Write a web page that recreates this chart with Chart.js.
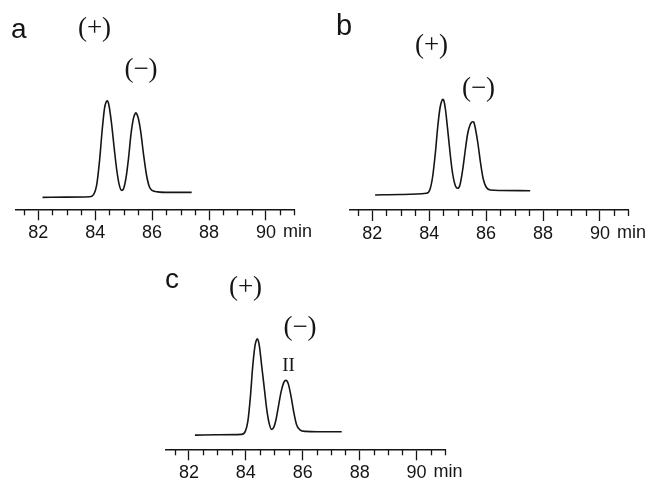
<!DOCTYPE html>
<html>
<head>
<meta charset="utf-8">
<script src="https://cdn.jsdelivr.net/npm/chart.js@4.4.1/dist/chart.umd.min.js"></script>
<style>
  body { margin: 0; background: #fff; }
  #wrap { position: relative; width: 651px; height: 483px; overflow: hidden; }
  canvas { position: absolute; }
</style>
</head>
<body>
<div id="wrap">
  <canvas id="chartA" width="325" height="250" style="left:0px;top:0px"></canvas>
  <canvas id="chartB" width="321" height="250" style="left:330px;top:0px"></canvas>
  <canvas id="chartC" width="320" height="243" style="left:150px;top:240px"></canvas>
</div>
<script>
// retention time (min) and detector signal
const timeA = [82.15, 83.0, 83.8, 83.95, 84.05, 84.15, 84.25, 84.33, 84.38, 84.42, 84.46, 84.5, 84.58, 84.67, 84.76, 84.85, 84.93,
  85.0, 85.08, 85.17, 85.26, 85.34, 85.39, 85.43, 85.47, 85.52, 85.6, 85.7, 85.8, 85.9, 86.0, 86.2, 86.6, 87.39];
const signalA = [0, 0.2, 0.6, 3, 12, 36, 69, 90, 95.5, 97, 95.5, 90, 73, 49, 27, 12, 7,
  9, 19, 39, 64, 79, 83.5, 85, 83.5, 79, 66, 43, 23, 11, 7, 5.5, 5, 5];

const timeB = [82.1, 83.0, 83.9, 84.02, 84.12, 84.22, 84.3, 84.38, 84.44, 84.48, 84.52, 84.57, 84.64, 84.72, 84.8, 84.9, 85.0,
  85.08, 85.17, 85.26, 85.35, 85.44, 85.49, 85.53, 85.57, 85.62, 85.71, 85.8, 85.9, 86.0, 86.15, 86.5, 87.55];
const signalB = [3, 3.5, 4.7, 8, 21, 46, 71, 90, 97, 98.7, 97, 89, 71, 49, 29, 14, 9.7,
  13, 27, 46, 64, 73.5, 75.7, 76.3, 75.7, 70, 55, 36, 19, 11, 8, 7.5, 7.3];

const timeC = [82.21, 83.0, 83.85, 83.98, 84.07, 84.16, 84.24, 84.32, 84.36, 84.4, 84.44, 84.48, 84.56, 84.65, 84.73, 84.82, 84.9,
  84.98, 85.06, 85.15, 85.24, 85.33, 85.37, 85.41, 85.45, 85.5, 85.59, 85.68, 85.78, 85.9, 86.1, 86.6, 87.37];
const signalC = [2.3, 2.6, 3, 6, 16, 41, 71, 92, 97, 99, 97, 91, 71, 49, 29, 14, 8,
  10, 18, 32, 46, 55, 56.8, 57.3, 56.5, 53, 41, 26, 13, 7.5, 6, 5.7, 5.6];

// x axis ticks (every 0.5 min, labelled every 2 min)
const tickValues = [81.5, 82, 82.5, 83, 83.5, 84, 84.5, 85, 85.5, 86, 86.5, 87, 87.5, 88, 88.5, 89, 89.5, 90, 90.5, 91];
const majorTicks = [82, 84, 86, 88, 90];

const SANS = "'Liberation Sans', Arial, Helvetica, sans-serif";
const SERIF = "'Liberation Serif', 'Times New Roman', serif";
const INK = "#151515";

function makeChart(id, times, signal, pad, texts) {
  const canvas = document.getElementById(id);
  const ctx = canvas.getContext("2d");

  /* minor ticks, "min" unit and the panel labels */
  const decor = {
    id: "decor",
    afterDraw(chart) {
      const c = chart.ctx;
      const xs = chart.scales.x;
      const bottom = chart.chartArea.bottom;
      c.save();
      c.strokeStyle = INK;
      c.lineWidth = 1.3;
      tickValues.forEach((v) => {
        if (majorTicks.includes(v)) return;
        const px = Math.round(xs.getPixelForValue(v)) + 0.5;
        c.beginPath();
        c.moveTo(px, bottom);
        c.lineTo(px, bottom + 6);
        c.stroke();
      });
      c.fillStyle = INK;
      c.font = "18px " + SANS;
      c.textAlign = "left";
      c.textBaseline = "middle";
      c.fillText("min", xs.getPixelForValue(90) + 17, bottom + 23);

      texts.forEach((t) => {
        c.font = t.font;
        c.textAlign = t.align || "center";
        c.textBaseline = t.base || "middle";
        c.fillText(t.text, t.x, t.y);
      });
      c.restore();
    },
  };

  return new Chart(ctx, {
    type: "line",
    data: {
      datasets: [
        {
          data: times.map((t, i) => ({ x: t, y: signal[i] })),
          borderColor: INK,
          borderWidth: 1.6,
          pointRadius: 0,
          fill: false,
          cubicInterpolationMode: "monotone",
        },
      ],
    },
    options: {
      responsive: false,
      animation: false,
      events: [],
      layout: { padding: pad },
      plugins: { legend: { display: false }, tooltip: { enabled: false } },
      scales: {
        x: {
          type: "linear",
          min: 81.2,
          max: 91,
          afterBuildTicks: (s) => {
            s.ticks = tickValues.map((v) => ({ value: v }));
          },
          afterFit: (s) => {
            s.height = 30;
          },
          grid: {
            drawOnChartArea: false,
            tickLength: 11,
            tickWidth: 1.3,
            tickColor: (c) => (c.tick && majorTicks.includes(c.tick.value) ? INK : "rgba(0,0,0,0)"),
          },
          border: { color: INK, width: 1.5 },
          ticks: {
            autoSkip: false,
            maxRotation: 0,
            padding: 2,
            color: INK,
            font: { family: SANS, size: 18 },
            callback: (v) => (majorTicks.includes(v) ? String(v) : ""),
          },
        },
        y: { display: false, min: -12, max: 118 },
      },
    },
    plugins: [decor],
  });
}

makeChart("chartA", timeA, signalA, { left: 15.5, right: 30.6, top: 80, bottom: 10.7 }, [
  { text: "a", x: 11, y: 38, font: "28px " + SANS, align: "left", base: "alphabetic" },
  { text: "(+)", x: 94.5, y: 29, font: "27px " + SERIF },
  { text: "(\u2212)", x: 141, y: 70, font: "27px " + SERIF },
]);

makeChart("chartB", timeB, signalB, { left: 19.5, right: 22.6, top: 80, bottom: 10 }, [
  { text: "b", x: 6, y: 35, font: "29px " + SANS, align: "left", base: "alphabetic" },
  { text: "(+)", x: 101.5, y: 46, font: "27px " + SERIF },
  { text: "(\u2212)", x: 148.5, y: 89, font: "27px " + SERIF },
]);

makeChart("chartC", timeC, signalC, { left: 16.2, right: 25, top: 80, bottom: 3.7 }, [
  { text: "c", x: 15, y: 48, font: "28px " + SANS, align: "left", base: "alphabetic" },
  { text: "(+)", x: 95.5, y: 48, font: "27px " + SERIF },
  { text: "(\u2212)", x: 150, y: 88, font: "27px " + SERIF },
  { text: "II", x: 138.5, y: 126, font: "19px " + SERIF },
]);
</script>
</body>
</html>
